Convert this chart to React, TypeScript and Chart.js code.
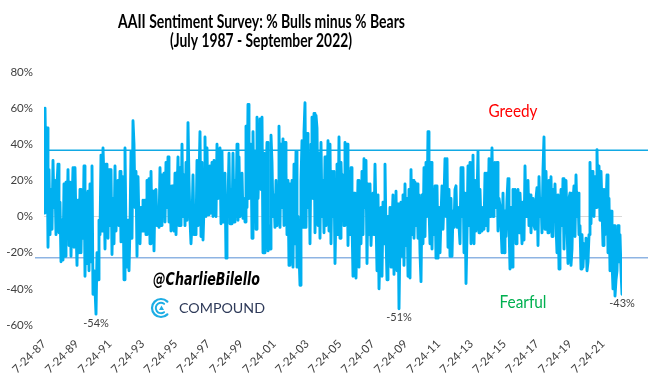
import React, { useEffect, useRef } from 'react';
import { Chart, registerables } from 'chart.js';

Chart.register(...registerables);

// ---- data ----
const START_YEAR = 1987 + 204 / 365; // 7-24-1987
const END_YEAR = 2022 + 263 / 365; // Sept 2022
const TICK_YEARS = [1987, 1989, 1991, 1993, 1995, 1997, 1999, 2001, 2003, 2005, 2007, 2009, 2011, 2013, 2015, 2017, 2019, 2021];
const Y_MIN = -60;
const Y_MAX = 80;
const Y_STEP = 20;
const GREEDY_LEVEL = 36.7;
const FEARFUL_LEVEL = -22.8;
const LABELLED_LOWS = [-54, -51, -43];

// % Bulls minus % Bears (dense sampling, July 1987 -> Sept 2022)
const BULLS_MINUS_BEARS = [
  2, 60, 22, 49, -17, 26, -10, 15, -7, 31,
  5, 20, -10, 18, 29, -9, 8, -25, -2, -24,
  18, -22, 19, -5, 26, -16, 19, -22, 5, 27,
  -17, 27, -5, -27, 9, -20, 15, -20, 14, -12,
  28, -33, 13, -26, 14, -30, 18, -25, 28, -43,
  -30, -40, -54, -20, -35, -2, -10, 34, -8, 38,
  20, -18, 29, 5, -12, 26, -5, 26, -21, 10,
  -15, 28, -8, 10, 20, -5, 25, -14, 8, 22,
  -35, 38, -10, -28, -2, -30, -5, 36, -12, 53,
  40, 5, 25, -22, 22, -5, -15, 5, -8, 9,
  -8, 9, -10, 20, -5, 21, -15, 25, -10, 14,
  -19, 14, 15, -5, -2, -6, 27, -5, 23, 2,
  24, -3, 30, 5, 33, -3, 17, -8, 17, -2,
  -8, 24, -10, 10, 33, -5, 27, -5, 40, 0,
  23, -5, 30, -2, 52, 20, -2, -15, -3, 23,
  -10, 5, -10, 31, -5, 20, 47, -11, 30, -13,
  5, 44, 0, 38, 1, 13, 28, 2, 30, 0,
  31, 2, 0, 40, 10, 20, 38, -4, 36, -3,
  20, 24, -23, 5, 8, 35, -4, 15, -4, 35,
  -3, 20, 0, 40, -2, 33, 0, 5, 24, -1,
  10, -3, 50, 5, 62, 10, 30, 40, -12, 47,
  5, 36, -7, 55, 10, 30, 54, 15, 55, -20,
  35, -20, 20, 41, -19, -5, -18, 45, 30, 0,
  12, -6, 20, -5, 15, 50, -6, 40, 5, 43,
  -5, 41, 25, -10, 20, -27, 18, -25, 20, -28,
  29, -15, 36, -28, 0, -20, -38, 20, 42, -6,
  47, 63, -6, 46, 5, 30, -15, 40, 55, 10,
  57, -9, 56, 49, -5, 35, -12, 41, 0, 20,
  -9, 33, -5, 10, 42, -8, 40, -15, 25, 0,
  25, -26, 5, 29, -10, 44, -12, 30, 10, 23,
  -5, 41, 10, 40, -16, 25, -10, 27, -2, -33,
  13, -30, -34, -5, 20, -28, 15, -15, 25, -10,
  32, 5, 31, -26, 18, -10, 18, -16, 0, 13,
  -10, 29, 0, -30, 12, -40, -20, 5, -33, 8,
  -15, 29, -10, -35, 0, -20, 5, -28, -5, 12,
  -32, 0, 14, -30, 7, -51, -10, 8, -22, 12,
  -27, 18, -16, 10, -33, 15, -34, 26, -10, 20,
  -12, 19, -5, 18, -12, 12, -20, -36, 12, -15,
  27, -11, 30, 0, 47, 5, -15, 30, -18, 15,
  -10, 17, -23, 17, -23, 5, -20, 0, 17, -7,
  10, 32, 0, 32, -17, 15, -22, 10, -22, 3,
  -6, 15, 17, -6, 5, -5, -15, 27, 0, 27,
  -20, 13, -37, -10, 28, -5, 30, -15, 30, 34,
  -15, 20, -8, 10, 36, -9, 15, -5, -8, 5,
  -7, 24, -5, 24, -8, 32, 0, 15, 38, 0,
  20, 30, 5, 30, -8, 10, 6, -5, -20, 13,
  -20, 3, -11, 10, 21, -5, -29, 5, -28, 15,
  -10, 15, -15, 12, 15, -9, 13, 0, -15, 8,
  -13, 28, 0, 17, 20, -5, 12, -9, 8, 10,
  -5, -7, 10, 16, -16, 22, 0, 10, -9, 26,
  44, -7, 25, 5, -9, 20, 5, 22, -11, 15,
  0, 18, -5, -20, 12, -29, -10, 15, -5, 21,
  -18, 10, 20, -5, -26, 10, 13, -27, -18, 9,
  17, -11, 23, 0, 13, -10, -5, -29, -10, -28,
  -15, -23, -12, -30, -25, -10, 30, -4, 25, 20,
  0, 22, 5, 37, 8, 28, -2, 25, 5, -16,
  15, -10, 5, 23, -20, 10, -30, 3, -25, -40,
  -5, -44, -35, -30, -5, -25, -10, -30, -43,
];

const TITLE_LINES = ['AAII Sentiment Survey: % Bulls minus % Bears', '(July 1987 - September 2022)'];

function fitText(ctx: CanvasRenderingContext2D, text: string, cx: number, baseY: number, font: string, color: string, width: number) {
  ctx.save();
  ctx.font = font;
  ctx.fillStyle = color;
  ctx.textAlign = 'center';
  ctx.textBaseline = 'alphabetic';
  const w = ctx.measureText(text).width || 1;
  ctx.translate(cx, baseY);
  ctx.scale(width / w, 1);
  ctx.fillText(text, 0, 0);
  ctx.restore();
}

const overlayPlugin = {
  id: 'overlay',
  beforeDatasetsDraw(chart: any) {
    const { ctx, scales } = chart;
    const y = scales.y;
    ctx.save();
    ctx.lineWidth = 1.5;
    const gy = y.getPixelForValue(GREEDY_LEVEL);
    ctx.strokeStyle = '#12A9E4';
    ctx.beginPath();
    ctx.moveTo(48, gy);
    ctx.lineTo(648, gy);
    ctx.stroke();
    const fy = y.getPixelForValue(FEARFUL_LEVEL);
    ctx.strokeStyle = '#8EB4E3';
    ctx.beginPath();
    ctx.moveTo(35, fy);
    ctx.lineTo(648, fy);
    ctx.stroke();
    ctx.restore();
  },
  afterDraw(chart: any) {
    const { ctx, scales } = chart;
    const x = scales.x;
    const y = scales.y;
    // title
    fitText(ctx, TITLE_LINES[0], 261.5, 28, 'bold 19.5px Lato', '#000', 287);
    fitText(ctx, TITLE_LINES[1], 261, 46.5, 'bold 19.5px Lato', '#000', 182);
    // zone labels
    fitText(ctx, 'Greedy', 513, 116.5, '17px Lato', '#FF0000', 49);
    fitText(ctx, 'Fearful', 523, 308, '17px Lato', '#00B050', 47);
    // watermark
    fitText(ctx, '@CharlieBilello', 206.5, 285, 'italic bold 17px "DejaVu Sans"', '#000', 107);
    fitText(ctx, 'COMPOUND', 222, 312.5, '13px Lato', '#2E3A59', 86);
    // logo
    ctx.save();
    ctx.strokeStyle = '#1DADE4';
    ctx.fillStyle = '#1DADE4';
    ctx.lineCap = 'round';
    const lx = 161, ly = 308;
    ctx.lineWidth = 2.2;
    ctx.beginPath();
    ctx.arc(lx, ly, 9, Math.PI * 0.25, Math.PI * 1.75);
    ctx.stroke();
    ctx.lineWidth = 2;
    ctx.beginPath();
    ctx.arc(lx, ly, 5.2, Math.PI * 0.3, Math.PI * 1.7);
    ctx.stroke();
    ctx.beginPath();
    ctx.moveTo(lx + 0.5, ly - 2.5);
    ctx.lineTo(lx + 3, ly + 2);
    ctx.lineTo(lx - 2, ly + 2);
    ctx.closePath();
    ctx.fill();
    ctx.restore();
    // low labels
    const n = BULLS_MINUS_BEARS.length;
    const step = (END_YEAR - START_YEAR) / (n - 1);
    ctx.save();
    ctx.font = '11px Lato';
    ctx.fillStyle = '#404040';
    ctx.textAlign = 'center';
    ctx.textBaseline = 'middle';
    LABELLED_LOWS.forEach((v, k) => {
      const idx = k === LABELLED_LOWS.length - 1 ? BULLS_MINUS_BEARS.lastIndexOf(v) : BULLS_MINUS_BEARS.indexOf(v);
      if (idx < 0) return;
      const px = x.getPixelForValue(START_YEAR + idx * step);
      const py = y.getPixelForValue(v);
      ctx.fillText(v + '%', px, py + 9);
    });
    ctx.restore();
  },
};

export default function App() {
  const ref = useRef<HTMLCanvasElement | null>(null);
  useEffect(() => {
    if (!ref.current) return;
    const n = BULLS_MINUS_BEARS.length;
    const step = (END_YEAR - START_YEAR) / (n - 1);
    const points = BULLS_MINUS_BEARS.map((v, i) => ({ x: START_YEAR + i * step, y: v }));
    const tickValues = TICK_YEARS.map((yr) => yr + 204 / 365);
    const chart = new Chart(ref.current, {
      type: 'line',
      data: {
        datasets: [
          {
            data: points,
            borderColor: '#00B0F0',
            borderWidth: 2.9,
            borderJoinStyle: 'round',
            borderCapStyle: 'round',
            pointRadius: 0,
            tension: 0,
            fill: false,
          },
        ],
      },
      options: {
        animation: false,
        responsive: false,
        devicePixelRatio: 1,
        layout: { padding: { top: 72, right: 26, left: 0, bottom: 0 } },
        plugins: { legend: { display: false }, tooltip: { enabled: false }, title: { display: false } },
        scales: {
          x: {
            type: 'linear',
            min: START_YEAR,
            max: END_YEAR,
            grid: { display: false },
            border: { display: false },
            afterFit: (s: any) => {
              s.height = 379 - 325;
            },
            afterBuildTicks: (s: any) => {
              s.ticks = tickValues.map((v) => ({ value: v }));
            },
            ticks: {
              autoSkip: false,
              maxRotation: 45,
              minRotation: 45,
              padding: 4,
              color: '#404040',
              font: { family: 'Lato', size: 11.5 },
              callback: (v: any) => {
                const yr = Math.round(Number(v) - 204 / 365);
                return '7-24-' + String(yr % 100).padStart(2, '0');
              },
            },
          },
          y: {
            min: Y_MIN,
            max: Y_MAX,
            afterFit: (s: any) => {
              s.width = 44;
            },
            grid: {
              drawTicks: false,
              color: (c: any) => (c.tick && c.tick.value === 0 ? '#D9D9D9' : 'rgba(0,0,0,0)'),
              lineWidth: 1,
            },
            border: { display: false },
            ticks: {
              stepSize: Y_STEP,
              padding: 11,
              color: '#404040',
              font: { family: 'Lato', size: 11.5 },
              callback: (v: any) => v + '%',
            },
          },
        },
      },
      plugins: [overlayPlugin],
    } as any);
    return () => chart.destroy();
  }, []);
  return (
    <div style={{ position: 'fixed', left: 0, top: 0, width: 648, height: 379, background: '#fff' }}>
      <canvas ref={ref} width={648} height={379} style={{ width: 648, height: 379, display: 'block' }} />
    </div>
  );
}
